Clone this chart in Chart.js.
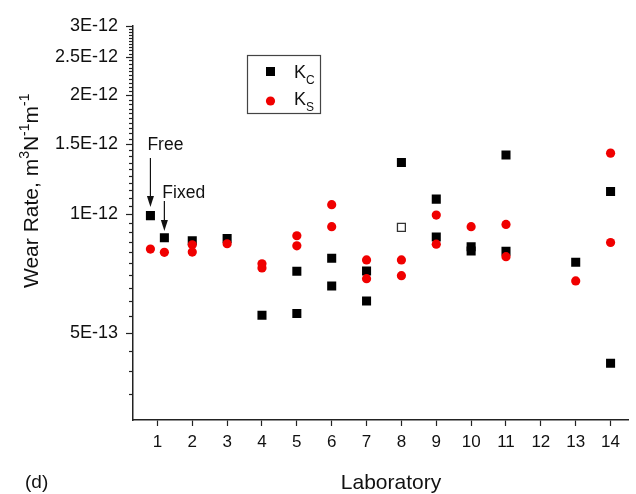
<!DOCTYPE html>
<html>
<head>
<meta charset="utf-8">
<script src="https://cdn.jsdelivr.net/npm/chart.js@4.4.1/dist/chart.umd.min.js"></script>
<style>
  html, body { margin:0; padding:0; background:#fff; }
</style>
</head>
<body>
<canvas id="chart" width="636" height="494"></canvas>
<script>
// Wear rate per laboratory, K_C (squares) and K_S (circles), log y axis
// lab 1 has two setups: "Free" (plotted at 0.8) and "Fixed" (at 1.2)

const labTicks = [1, 2, 3, 4, 5, 6, 7, 8, 9, 10, 11, 12, 13, 14];

const kcLab  = [0.8, 1.2, 2, 3, 4, 5, 5, 6, 6, 7, 7, 8, 9, 9, 10, 10, 11, 11, 13, 14, 14];
const kcRate = [9.9e-13, 8.7e-13, 8.55e-13, 8.66e-13, 5.53e-13, 7.15e-13, 5.59e-13,
                7.72e-13, 6.56e-13, 7.16e-13, 6.01e-13, 1.35e-12, 1.09e-12, 8.74e-13,
                8.25e-13, 8.05e-13, 1.41e-12, 8.04e-13, 7.54e-13, 1.14e-12, 4.18e-13];

// the one open square (lab 8)
const kcOpenLab  = [8];
const kcOpenRate = [9.24e-13];

const ksLab  = [0.8, 1.2, 2, 2, 3, 4, 4, 5, 5, 6, 6, 7, 7, 8, 8, 9, 9, 10, 11, 11, 13, 14, 14];
const ksRate = [8.14e-13, 7.99e-13, 8.35e-13, 8.0e-13, 8.4e-13, 7.47e-13, 7.29e-13,
                8.8e-13, 8.3e-13, 1.055e-12, 9.28e-13, 7.64e-13, 6.85e-13, 7.64e-13,
                6.97e-13, 9.93e-13, 8.38e-13, 9.28e-13, 9.4e-13, 7.79e-13, 6.76e-13,
                1.426e-12, 8.46e-13];

const yMajor       = [5e-13, 1e-12, 1.5e-12, 2e-12, 2.5e-12, 3e-12];
const yMajorLabels = ['5E-13', '1E-12', '1.5E-12', '2E-12', '2.5E-12', '3E-12'];

const FONT = '"Liberation Sans", Arial, sans-serif';
const RED = '#f00000';

const toXY = (xs, ys) => xs.map((x, i) => ({ x, y: ys[i] }));

// text with sub/superscripts: parts = [[text, shift], ...], shift -1 sub, +1 sup
function richText(ctx, parts, x, y, size){
  let cx = x;
  parts.forEach(([t, shift]) => {
    const s = shift ? Math.round(size * 0.65) : size;
    const dy = shift > 0 ? -0.42 * size : (shift < 0 ? 0.32 * size : 0);
    ctx.font = s + 'px ' + FONT;
    ctx.fillText(t, cx, y + dy);
    cx += ctx.measureText(t).width;
  });
}

function arrowDown(ctx, x, y0, y1){
  ctx.beginPath(); ctx.moveTo(x, y0); ctx.lineTo(x, y1 - 8); ctx.stroke();
  ctx.beginPath(); ctx.moveTo(x, y1); ctx.lineTo(x - 3.5, y1 - 11); ctx.lineTo(x + 3.5, y1 - 11); ctx.closePath(); ctx.fill();
}

const extras = {
  id: 'extras',
  afterDraw(chart){
    const ctx = chart.ctx, xs = chart.scales.x, ys = chart.scales.y;
    const left = chart.chartArea.left;
    ctx.save();

    // y tick marks, minor every 5E-14
    ctx.strokeStyle = '#222'; ctx.lineWidth = 1.2;
    for(let k = 7; k <= 60; k++){
      const v = k * 5e-14;
      const major = yMajor.some(m => Math.abs(m - v) < 1e-16);
      const y = Math.round(ys.getPixelForValue(v)) + 0.5;
      ctx.beginPath(); ctx.moveTo(left, y); ctx.lineTo(left - (major ? 7 : 4), y); ctx.stroke();
    }

    ctx.fillStyle = '#111';
    ctx.textAlign = 'left'; ctx.textBaseline = 'alphabetic';

    // y title
    ctx.save();
    ctx.translate(38, 288);
    ctx.rotate(-Math.PI / 2);
    richText(ctx, [['Wear Rate, m', 0], ['3', 1], ['N', 0], ['-1', 1], ['m', 0], ['-1', 1]], 0, 0, 21);
    ctx.restore();

    // x title
    ctx.font = '21px ' + FONT; ctx.textAlign = 'center';
    ctx.fillText('Laboratory', 391, 489);
    ctx.textAlign = 'left';
    ctx.font = '19px ' + FONT;
    ctx.fillText('(d)', 25, 488);

    // Free / Fixed annotations
    const xFree = xs.getPixelForValue(0.8), xFixed = xs.getPixelForValue(1.2);
    ctx.font = '17.5px ' + FONT;
    ctx.fillText('Free', xFree - 3, 150);
    ctx.fillText('Fixed', xFixed - 2, 198);
    ctx.strokeStyle = '#111'; ctx.lineWidth = 1.2;
    arrowDown(ctx, xFree, 158, 207);
    arrowDown(ctx, xFixed, 201, 231);

    // legend
    ctx.strokeStyle = '#444'; ctx.lineWidth = 1.2;
    ctx.strokeRect(247.5, 55.5, 73, 58);
    ctx.fillStyle = '#000';
    ctx.fillRect(266, 67, 9, 9);
    ctx.fillStyle = RED;
    ctx.beginPath(); ctx.arc(270.5, 101, 4.6, 0, Math.PI * 2); ctx.fill();
    ctx.fillStyle = '#111';
    richText(ctx, [['K', 0], ['C', -1]], 294, 78, 18);
    richText(ctx, [['K', 0], ['S', -1]], 294, 105, 18);

    ctx.restore();
  }
};

new Chart(document.getElementById('chart'), {
  type: 'scatter',
  data: {
    datasets: [
      { label: 'Kc', data: toXY(kcLab, kcRate), order: 1,
        pointStyle: 'rect', pointRadius: 6.4, backgroundColor: '#000', borderColor: '#000', borderWidth: 0 },
      { label: 'Kc open', data: toXY(kcOpenLab, kcOpenRate), order: 1,
        pointStyle: 'rect', pointRadius: 5.6, backgroundColor: '#fff', borderColor: '#333', borderWidth: 1.3 },
      { label: 'Ks', data: toXY(ksLab, ksRate), order: 0,
        pointStyle: 'circle', pointRadius: 4.6, backgroundColor: RED, borderColor: RED, borderWidth: 0 }
    ]
  },
  options: {
    responsive: false,
    animation: false,
    devicePixelRatio: 1,
    events: [],
    layout: { padding: { left: 0, right: 8, top: 20, bottom: 0 } },
    plugins: { legend: { display: false }, tooltip: { enabled: false } },
    scales: {
      x: {
        type: 'linear', min: 0.3, max: 14.5,
        afterBuildTicks: s => { s.ticks = labTicks.map(v => ({ value: v })); },
        afterFit: s => { s.height = 74; },
        grid: { display: true, drawOnChartArea: false, drawTicks: true, tickLength: 6, tickColor: '#222', tickWidth: 1.2 },
        border: { display: true, color: '#222', width: 1.5 },
        ticks: { color: '#111', padding: 6, font: { family: FONT, size: 17 }, maxRotation: 0, autoSkip: false }
      },
      y: {
        type: 'logarithmic', min: 3e-13, max: 3e-12,
        afterBuildTicks: s => { s.ticks = yMajor.map(v => ({ value: v })); },
        afterFit: s => { s.width = 133; },
        grid: { display: true, drawOnChartArea: false, drawTicks: false },
        border: { display: true, color: '#222', width: 1.5 },
        ticks: { color: '#111', padding: 15, font: { family: FONT, size: 18 }, autoSkip: false,
                 callback: (v, i) => yMajorLabels[i] }
      }
    }
  },
  plugins: [extras]
});
</script>
</body>
</html>
